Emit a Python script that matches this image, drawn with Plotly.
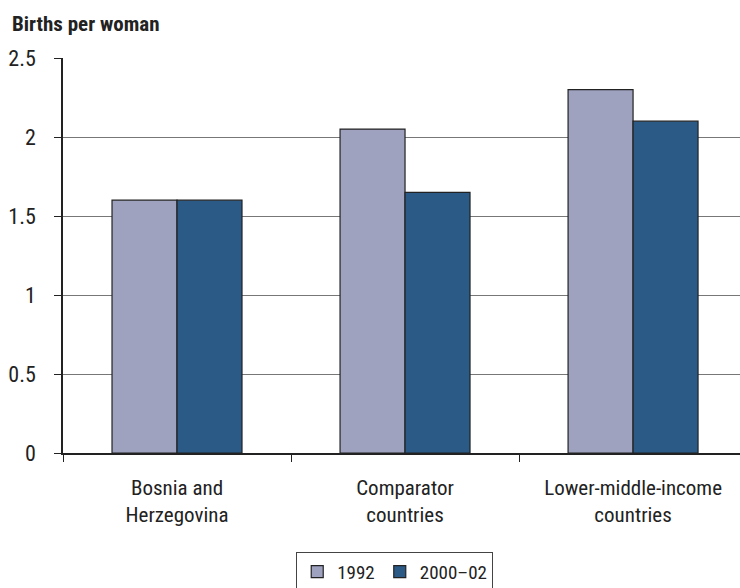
import plotly.graph_objects as go

categories = ["Bosnia and<br>Herzegovina", "Comparator<br>countries", "Lower-middle-income<br>countries"]
series_names = ["1992", "2000–02"]
values_1992 = [1.6, 2.05, 2.3]
values_2000 = [1.6, 1.65, 2.1]
y_ticks = [0, 0.5, 1, 1.5, 2, 2.5]
y_tick_labels = ["0", "0.5", "1", "1.5", "2", "2.5"]

FONT = "Liberation Sans Narrow, Roboto Condensed, Arial Narrow, sans-serif"

fig = go.Figure()
fig.add_trace(go.Bar(x=categories, y=values_1992, name=series_names[0],
                     marker=dict(color="#9ea2bf", line=dict(color="#222222", width=1.2))))
fig.add_trace(go.Bar(x=categories, y=values_2000, name=series_names[1],
                     marker=dict(color="#2b5a87", line=dict(color="#222222", width=1.2))))

fig.update_layout(
    width=740, height=588,
    margin=dict(l=63, r=0, t=58, b=135, autoexpand=False),
    paper_bgcolor="white", plot_bgcolor="white",
    barmode="group", bargap=0.43, bargroupgap=0,
    font=dict(family=FONT, size=18, color="#222222"),
    showlegend=True,
    legend=dict(orientation="h", x=0.49, xanchor="center", y=-0.25, yanchor="top",
                bordercolor="#444444", borderwidth=1, font=dict(size=19),
                itemwidth=30, tracegroupgap=0),
    annotations=[dict(text="<b>Births per woman</b>", xref="paper", yref="paper",
                      x=-53/677, y=1, xanchor="left", yanchor="bottom", yshift=20,
                      showarrow=False, font=dict(size=21, family=FONT, color="#222222"))],
)
fig.update_yaxes(range=[0, 2.5], tickvals=y_ticks, ticktext=y_tick_labels,
                 showgrid=True, gridcolor="#777777", gridwidth=1,
                 showline=True, linecolor="#222222", linewidth=1.5,
                 ticks="outside", ticklen=7, tickcolor="#222222", ticklabelstandoff=14,
                 zeroline=False, tickfont=dict(size=22))
fig.update_xaxes(range=[-0.5, 2.469], showline=True, linecolor="#222222", linewidth=1.5,
                 ticks="outside", ticklen=7, tickcolor="#222222", ticklabelstandoff=15,
                 tickson="boundaries", showgrid=False, tickfont=dict(size=21))

fig.write_html("out.html")
